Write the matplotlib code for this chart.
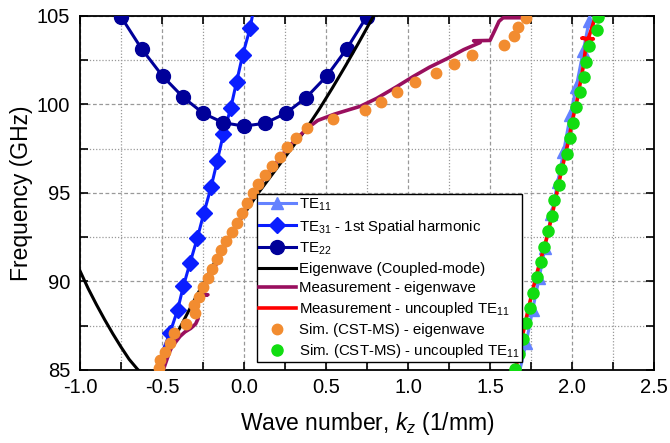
import matplotlib
matplotlib.use("Agg")
import matplotlib.pyplot as plt
from matplotlib.ticker import MultipleLocator

plt.rcParams['font.family'] = ['Liberation Sans', 'DejaVu Sans']
plt.rcParams['mathtext.fontset'] = 'custom'
plt.rcParams['mathtext.rm'] = 'Liberation Sans'
plt.rcParams['mathtext.it'] = 'Liberation Sans:italic'

# TE11 mode (light blue triangles)
te11_kz = [1.68, 1.72, 1.76, 1.80, 1.835, 1.875, 1.913, 1.948, 1.99, 2.026, 2.068, 2.104, 2.115]
te11_f = [84.9, 86.5, 88.4, 90.2, 91.9, 93.8, 95.6, 97.3, 99.4, 101.0, 103.0, 104.7, 105.3]

# TE31 - 1st spatial harmonic (blue diamonds)
te31_kz = [0.055, 0.037, -0.008, -0.045, -0.081, -0.126, -0.163, -0.201, -0.244, -0.285, -0.329, -0.37, -0.405, -0.452, -0.49]
te31_f = [105.2, 104.3, 102.8, 101.29, 99.79, 98.32, 96.81, 95.32, 93.89, 92.44, 91.05, 89.72, 88.39, 87.08, 86.2]

# TE22 (navy circles)
te22_kz = [-0.75, -0.624, -0.496, -0.37, -0.248, -0.126, 0.0, 0.128, 0.254, 0.378, 0.504, 0.626, 0.748]
te22_f = [104.96, 103.14, 101.6, 100.4, 99.5, 98.97, 98.78, 98.94, 99.5, 100.38, 101.6, 103.14, 104.96]

# Eigenwave (coupled-mode), two branches
eig_left_kz = [-1.0, -0.95, -0.90, -0.85, -0.80, -0.75, -0.70, -0.65, -0.60]
eig_left_f = [90.6, 89.6, 88.7, 87.85, 87.05, 86.3, 85.6, 85.05, 84.6]
eig_right_kz = [-0.58, -0.523, -0.45, -0.37, -0.30, -0.25, -0.146, -0.07, 0.0, 0.087, 0.20, 0.28,
                0.382, 0.46, 0.54, 0.62, 0.70, 0.79]
eig_right_f = [84.1, 85.1, 86.35, 87.75, 89.0, 89.85, 91.65, 92.8, 93.8, 95.0, 96.4, 97.4,
               98.66, 99.75, 100.95, 102.2, 103.5, 105.0]

# Measurement - eigenwave
meas_eig_kz = [-0.50, -0.485, -0.47, -0.455, -0.44, -0.415, -0.39, -0.36, -0.325, -0.295, -0.28, -0.285,
               -0.30, -0.285, -0.26, -0.22, -0.26, -0.24, -0.21, -0.155, -0.10, -0.035, 0.025, 0.095,
               0.18, 0.27, 0.385, 0.45, 0.55, 0.71, 0.81, 0.93, 1.03, 1.13, 1.24, 1.34, 1.44, 1.40,
               1.50, 1.53, 1.555, 1.58, 1.72]
meas_eig_f = [84.8, 85.2, 85.6, 86.0, 86.3, 86.6, 86.9, 87.15, 87.35, 87.6, 87.9, 88.3,
              88.55, 88.9, 89.2, 89.25, 89.3, 89.7, 90.2, 91.25, 92.3, 93.3, 94.4, 95.5,
              96.5, 97.6, 98.65, 99.1, 99.45, 99.9, 100.35, 101.0, 101.57, 102.1, 102.6, 103.1, 103.5, 103.6,
              103.62, 104.2, 104.7, 104.9, 104.9]

# Measurement - uncoupled TE11
meas_unc_kz = [1.655, 1.673, 1.70, 1.73, 1.76, 1.79, 1.82, 1.85, 1.88, 1.905, 1.93, 1.955, 1.98,
               2.00, 2.03, 2.05, 2.07, 2.09, 2.06, 2.13, 2.10, 2.12, 2.15]
meas_unc_f = [84.9, 85.9, 87.0, 88.3, 89.5, 90.6, 91.6, 92.6, 93.8, 94.9, 96.0, 97.0, 98.0,
              99.0, 100.2, 101.2, 102.2, 103.7, 103.75, 103.7, 103.75, 104.3, 105.2]

# Sim. (CST-MS) - eigenwave
sim_eig_kz = [-0.518, -0.51, -0.484, -0.453, -0.429, -0.352, -0.297, -0.307, -0.273, -0.25, -0.218,
              -0.197, -0.167, -0.14, -0.112, -0.075, -0.045, -0.014, 0.016, 0.057, 0.087, 0.128,
              0.171, 0.22, 0.264, 0.317, 0.382, 0.545, 0.738, 0.835, 0.931, 1.043, 1.171, 1.28,
              1.388, 1.585, 1.646, 1.669, 1.717]
sim_eig_f = [85.1, 85.55, 86.03, 86.55, 87.07, 87.62, 88.2, 88.65, 89.14, 89.67, 90.18,
             90.7, 91.25, 91.78, 92.3, 92.81, 93.32, 93.85, 94.42, 94.98, 95.49, 96.02,
             96.54, 97.05, 97.62, 98.09, 98.66, 99.18, 99.69, 100.16, 100.72, 101.29, 101.8, 102.29,
             102.8, 103.36, 103.87, 104.4, 104.87]

# Sim. (CST-MS) - uncoupled TE11
sim_unc_kz = [1.652, 1.678, 1.699, 1.718, 1.744, 1.764, 1.785, 1.809, 1.829, 1.856, 1.876, 1.888,
              1.921, 1.933, 1.967, 1.988, 2.004, 2.024, 2.049, 2.073, 2.085, 2.105, 2.15, 2.16]
sim_unc_f = [85.04, 85.9, 86.73, 87.64, 88.49, 89.34, 90.24, 91.12, 91.97, 92.85, 93.7, 94.6,
             95.45, 96.34, 97.2, 98.09, 98.97, 99.84, 100.69, 101.57, 102.42, 103.32, 104.2, 104.96]

fig = plt.figure(figsize=(6.7, 4.43), dpi=100)
ax = fig.add_axes([0.1194, 0.1648, 0.8567, 0.7991])

ax.plot(te11_kz, te11_f, color='#6482FF', lw=2.2, marker='^', ms=9,
        markevery=list(range(1, len(te11_kz) - 1)), label='TE$_{11}$', zorder=3)
ax.plot(te31_kz, te31_f, color='#0A1EFF', lw=2.2, marker='D', ms=8,
        markevery=list(range(1, len(te31_kz) - 1)), label='TE$_{31}$ - 1st Spatial harmonic', zorder=3)
ax.plot(te22_kz, te22_f, color='#000099', lw=2.2, marker='o', ms=10, label='TE$_{22}$', zorder=3)
ax.plot(eig_left_kz, eig_left_f, color='black', lw=2.2, zorder=4)
ax.plot(eig_right_kz, eig_right_f, color='black', lw=2.2, label='Eigenwave (Coupled-mode)', zorder=4)
ax.plot(meas_eig_kz, meas_eig_f, color='#990F5E', lw=2.6, label='Measurement - eigenwave', zorder=5)
ax.plot(meas_unc_kz, meas_unc_f, color='#FF0000', lw=2.6, label='Measurement - uncoupled TE$_{11}$', zorder=5)
ax.plot(sim_eig_kz, sim_eig_f, ls='none', marker='o', ms=7.5, color='#F28C30',
        label='Sim. (CST-MS) - eigenwave', zorder=6)
ax.plot(sim_unc_kz, sim_unc_f, ls='none', marker='o', ms=8, color='#11DD11',
        label='Sim. (CST-MS) - uncoupled TE$_{11}$', zorder=6)

ax.set_xlim(-1.0, 2.5)
ax.set_ylim(85, 105)
ax.xaxis.set_major_locator(MultipleLocator(0.5))
ax.xaxis.set_minor_locator(MultipleLocator(0.25))
ax.yaxis.set_major_locator(MultipleLocator(5))
ax.yaxis.set_minor_locator(MultipleLocator(2.5))
ax.xaxis.set_major_formatter(matplotlib.ticker.FormatStrFormatter('%.1f'))
ax.tick_params(which='both', direction='in', top=True, right=True, width=1.2, labelsize=14.5)
ax.tick_params(which='both', length=6)
ax.tick_params(axis='x', pad=6)
ax.tick_params(axis='y', pad=7)
ax.grid(which='major', color='#999999', ls=(0, (3, 2)), lw=0.9)
ax.grid(which='minor', color='#999999', ls=(0, (1, 1.5)), lw=0.9)
ax.set_axisbelow(True)
for s in ax.spines.values():
    s.set_linewidth(1.3)

ax.set_xlabel('Wave number, $k_z$ (1/mm)', fontsize=16.5, labelpad=9)
ax.set_ylabel('Frequency (GHz)', fontsize=16.5, labelpad=3)

leg = ax.legend(loc='upper left', bbox_to_anchor=(0.308, 0.497), fontsize=10.8, frameon=True,
                fancybox=False, framealpha=1, edgecolor='black', borderaxespad=0,
                borderpad=0.15, handlelength=2.45, handletextpad=0.2, labelspacing=0.33)
leg.get_frame().set_linewidth(1.0)
leg.set_zorder(10)

fig.savefig('out.png', dpi=100)
